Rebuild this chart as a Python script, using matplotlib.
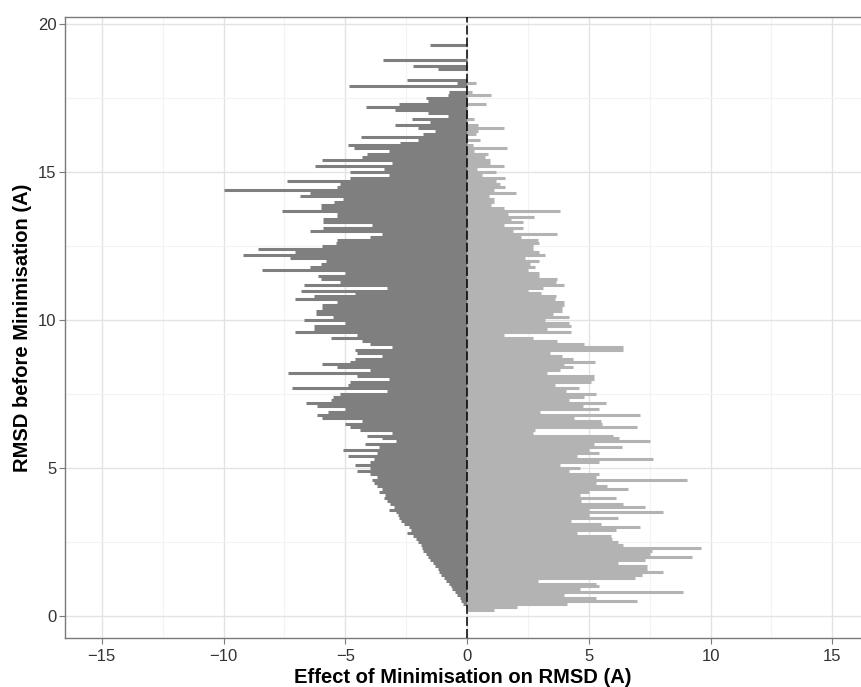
import numpy as np
import matplotlib
matplotlib.use("Agg")
import matplotlib.pyplot as plt

plt.rcParams['font.family'] = ['Liberation Sans', 'DejaVu Sans']

# RMSD before minimisation (A) for structures that got better (negative effect)
neg_rmsd = [0.3, 0.4, 0.5, 0.6, 0.7, 0.8, 0.9, 1.0, 1.1, 1.2,
            1.3, 1.4, 1.5, 1.6, 1.7, 1.8, 1.9, 2.0, 2.1, 2.2,
            2.3, 2.4, 2.5, 2.6, 2.7, 2.8, 2.9, 3.0, 3.1, 3.2,
            3.3, 3.4, 3.5, 3.6, 3.7, 3.8, 3.9, 4.0, 4.1, 4.2,
            4.3, 4.4, 4.5, 4.6, 4.7, 4.8, 4.9, 5.0, 5.1, 5.2,
            5.3, 5.4, 5.5, 5.6, 5.7, 5.8, 5.9, 6.0, 6.1, 6.2,
            6.3, 6.4, 6.5, 6.6, 6.7, 6.8, 6.9, 7.0, 7.1, 7.2,
            7.3, 7.4, 7.5, 7.6, 7.7, 7.8, 7.9, 8.0, 8.1, 8.2,
            8.3, 8.4, 8.5, 8.6, 8.7, 8.8, 8.9, 9.0, 9.1, 9.2,
            9.3, 9.4, 9.5, 9.6, 9.7, 9.8, 9.9, 10.0, 10.1, 10.2,
            10.3, 10.4, 10.5, 10.6, 10.7, 10.8, 10.9, 11.0, 11.1, 11.2,
            11.3, 11.4, 11.5, 11.6, 11.7, 11.8, 11.9, 12.0, 12.1, 12.2,
            12.3, 12.4, 12.5, 12.6, 12.7, 12.8, 12.9, 13.0, 13.1, 13.2,
            13.3, 13.4, 13.5, 13.6, 13.7, 13.8, 13.9, 14.0, 14.1, 14.2,
            14.3, 14.4, 14.5, 14.6, 14.7, 14.8, 14.9, 15.0, 15.1, 15.2,
            15.3, 15.4, 15.5, 15.6, 15.7, 15.8, 15.9, 16.0, 16.1, 16.2,
            16.3, 16.4, 16.5, 16.6, 16.7, 16.8, 16.9, 17.0, 17.1, 17.2,
            17.3, 17.4, 17.5, 17.6, 17.7,
            17.9, 18.0, 18.1, 18.5, 18.6, 18.8, 19.3]
neg_effect = [-0.05, -0.15, -0.25, -0.3, -0.4, -0.5, -0.6, -0.65, -0.75, -0.85,
              -0.95, -1.05, -1.15, -1.2, -1.3, -1.4, -1.5, -1.6, -1.7, -1.8,
              -1.85, -1.9, -2.0, -2.1, -2.2, -2.45, -2.3, -2.4, -2.6, -2.7,
              -2.8, -2.85, -2.9, -3.2, -3.0, -3.15, -3.3, -3.4, -3.35, -3.6,
              -3.5, -3.7, -3.8, -3.9, -3.7, -4.0, -4.5, -4.0, -4.6, -4.0,
              -3.8, -4.9, -3.7, -5.1, -3.6, -4.2, -2.9, -3.5, -4.1, -3.1,
              -4.4, -4.8, -5.0, -4.3, -5.95, -6.15, -5.7, -5.0, -6.15, -6.6,
              -5.6, -5.5, -5.2, -3.3, -7.2, -4.9, -4.8, -3.2, -4.5, -7.35,
              -4.0, -5.35, -5.95, -4.8, -4.6, -3.5, -4.5, -4.6, -3.1, -4.0,
              -4.3, -5.6, -4.5, -7.05, -6.3, -6.3, -5.0, -6.7, -5.5, -6.2,
              -6.2, -5.95, -5.95, -5.35, -7.05, -6.3, -4.6, -6.8, -3.3, -6.7,
              -5.2, -6.0, -6.1, -5.0, -8.4, -6.45, -6.0, -5.8, -7.25, -9.2,
              -7.05, -8.6, -5.95, -5.4, -5.35, -4.0, -3.5, -6.45, -5.9, -3.9,
              -5.9, -5.9, -5.35, -5.35, -7.6, -6.0, -6.0, -5.45, -5.1, -6.85,
              -6.45, -10.0, -5.35, -5.2, -7.4, -4.8, -3.2, -4.8, -3.4, -6.25,
              -3.1, -5.95, -4.3, -4.1, -3.2, -4.65, -4.9, -2.75, -2.0, -4.35,
              -1.8, -1.3, -2.0, -2.95, -1.5, -2.25, -0.8, -1.6, -2.95, -4.15,
              -2.8, -1.6, -1.7, -0.8, -0.75,
              -4.85, -0.4, -2.45, -1.2, -2.2, -3.45, -1.5]

# structures that got worse (positive effect)
pos_rmsd = [0.2, 0.3, 0.4, 0.5, 0.6, 0.7, 0.8, 0.9, 1.0, 1.1,
            1.2, 1.3, 1.4, 1.5, 1.6, 1.7, 1.8, 1.9, 2.0, 2.1,
            2.2, 2.3, 2.4, 2.5, 2.6, 2.7, 2.8, 2.9, 3.0, 3.1,
            3.2, 3.3, 3.4, 3.5, 3.6, 3.7, 3.8, 3.9, 4.0, 4.1,
            4.2, 4.3, 4.4, 4.5, 4.6, 4.7, 4.8, 4.9, 5.0, 5.1,
            5.2, 5.3, 5.4, 5.5, 5.6, 5.7, 5.8, 5.9, 6.0, 6.1,
            6.2, 6.3, 6.4, 6.5, 6.6, 6.7, 6.8, 6.9, 7.0, 7.1,
            7.2, 7.3, 7.4, 7.5, 7.6, 7.7, 7.8, 7.9, 8.0, 8.1,
            8.2, 8.3, 8.4, 8.5, 8.6, 8.7, 8.8, 8.9, 9.0, 9.1,
            9.2, 9.3, 9.4, 9.5, 9.6, 9.7, 9.8, 9.9, 10.0, 10.1,
            10.2, 10.3, 10.4, 10.5, 10.6, 10.7, 10.8, 10.9, 11.0, 11.1,
            11.2, 11.3, 11.4, 11.5, 11.6, 11.7, 11.8, 11.9, 12.0, 12.1,
            12.2, 12.3, 12.4, 12.5, 12.6, 12.7, 12.8, 12.9, 13.0, 13.1,
            13.2, 13.3, 13.4, 13.5, 13.6, 13.7, 13.8, 13.9, 14.0, 14.1,
            14.2, 14.3, 14.4, 14.5, 14.6, 14.7, 14.8, 14.9, 15.0, 15.1,
            15.2, 15.3, 15.4, 15.5, 15.6, 15.7, 15.8, 15.9,
            16.1, 16.3, 16.4, 16.5, 16.6, 16.8, 17.3, 17.6, 17.7, 18.0]
pos_effect = [1.1, 2.05, 4.1, 7.0, 5.3, 4.0, 8.85, 4.65, 5.4, 5.3,
              2.9, 6.9, 7.2, 8.05, 7.4, 7.4, 6.2, 7.3, 9.25, 7.5,
              7.6, 9.6, 6.4, 6.2, 5.95, 5.9, 4.5, 6.1, 7.1, 5.5,
              4.25, 6.2, 5.0, 8.05, 5.0, 7.3, 6.4, 4.7, 6.1, 4.65,
              5.0, 6.6, 5.75, 5.3, 9.05, 5.3, 5.4, 4.2, 4.65, 3.8,
              5.4, 7.65, 4.5, 5.4, 5.0, 6.35, 5.2, 7.5, 6.25, 6.0,
              2.7, 2.8, 7.0, 5.55, 5.5, 4.4, 7.1, 3.0, 5.4, 4.75,
              5.7, 4.2, 4.8, 5.3, 4.05, 4.6, 3.6, 5.1, 5.2, 5.2,
              3.3, 3.8, 4.35, 4.0, 5.25, 4.35, 3.9, 3.4, 6.4, 6.4,
              4.8, 3.7, 2.7, 1.5, 4.25, 3.3, 4.25, 4.2, 3.2, 4.2,
              3.55, 3.9, 3.9, 4.0, 4.0, 3.6, 3.65, 3.05, 2.5, 3.1,
              4.0, 3.65, 3.7, 2.95, 2.95, 2.5, 2.8, 2.6, 2.95, 2.4,
              3.2, 2.95, 2.7, 2.7, 2.95, 2.9, 2.2, 3.7, 1.9, 2.3,
              1.5, 2.3, 1.8, 2.75, 1.7, 3.8, 1.5, 1.0, 1.1, 1.1,
              0.9, 2.0, 1.1, 1.55, 1.35, 1.2, 1.55, 0.6, 1.2, 0.4,
              1.5, 0.95, 0.95, 0.75, 0.85, 0.3, 1.65, 0.25,
              0.55, 0.35, 0.45, 1.5, 0.45, 0.3, 0.8, 1.0, 0.2, 0.35]

x_ticks = [-15, -10, -5, 0, 5, 10, 15]
y_ticks = [0, 5, 10, 15, 20]

fig = plt.figure(figsize=(8.61, 6.87), dpi=100)
ax = fig.add_axes([65 / 861, 49 / 687, 796 / 861, 621 / 687])

ax.hlines(neg_rmsd, 0, neg_effect, colors='#7f7f7f', linewidth=2.2, capstyle='butt', zorder=2)
ax.hlines(pos_rmsd, 0, pos_effect, colors='#b3b3b3', linewidth=2.2, capstyle='butt', zorder=2)
ax.axvline(0, color='black', linewidth=1.1, linestyle=(0, (5.9, 2.0)), zorder=3)

ax.set_xlim(-16.51, 16.18)
ax.set_ylim(-0.74, 20.24)

ax.set_xticks(x_ticks)
ax.set_xticklabels([str(t).replace('-', '\u2212') for t in x_ticks])
ax.set_yticks(y_ticks)
ax.set_xticks(np.array(x_ticks[:-1]) + 2.5, minor=True)
ax.set_yticks(np.array(y_ticks[:-1]) + 2.5, minor=True)

ax.grid(True, which='major', color='#e3e3e3', linewidth=1.0, zorder=0)
ax.grid(True, which='minor', color='#f3f3f3', linewidth=0.8, zorder=0)
ax.set_axisbelow(True)

for side in ['left', 'bottom', 'top']:
    ax.spines[side].set_color('#7a7a7a')
    ax.spines[side].set_linewidth(1.0)
ax.spines['right'].set_visible(False)

ax.tick_params(axis='both', which='major', length=4, width=0.8, color='#7a7a7a',
               labelsize=12, labelcolor='#333333')
ax.tick_params(axis='x', which='major', pad=4)
ax.tick_params(axis='y', which='major', pad=2)
ax.tick_params(axis='both', which='minor', length=0)

ax.set_xlabel('Effect of Minimisation on RMSD (A)', fontsize=14.5, fontweight='bold', labelpad=3)
ax.set_ylabel('RMSD before Minimisation (A)', fontsize=14.5, fontweight='bold', labelpad=4)

fig.savefig('out.png', dpi=100)
